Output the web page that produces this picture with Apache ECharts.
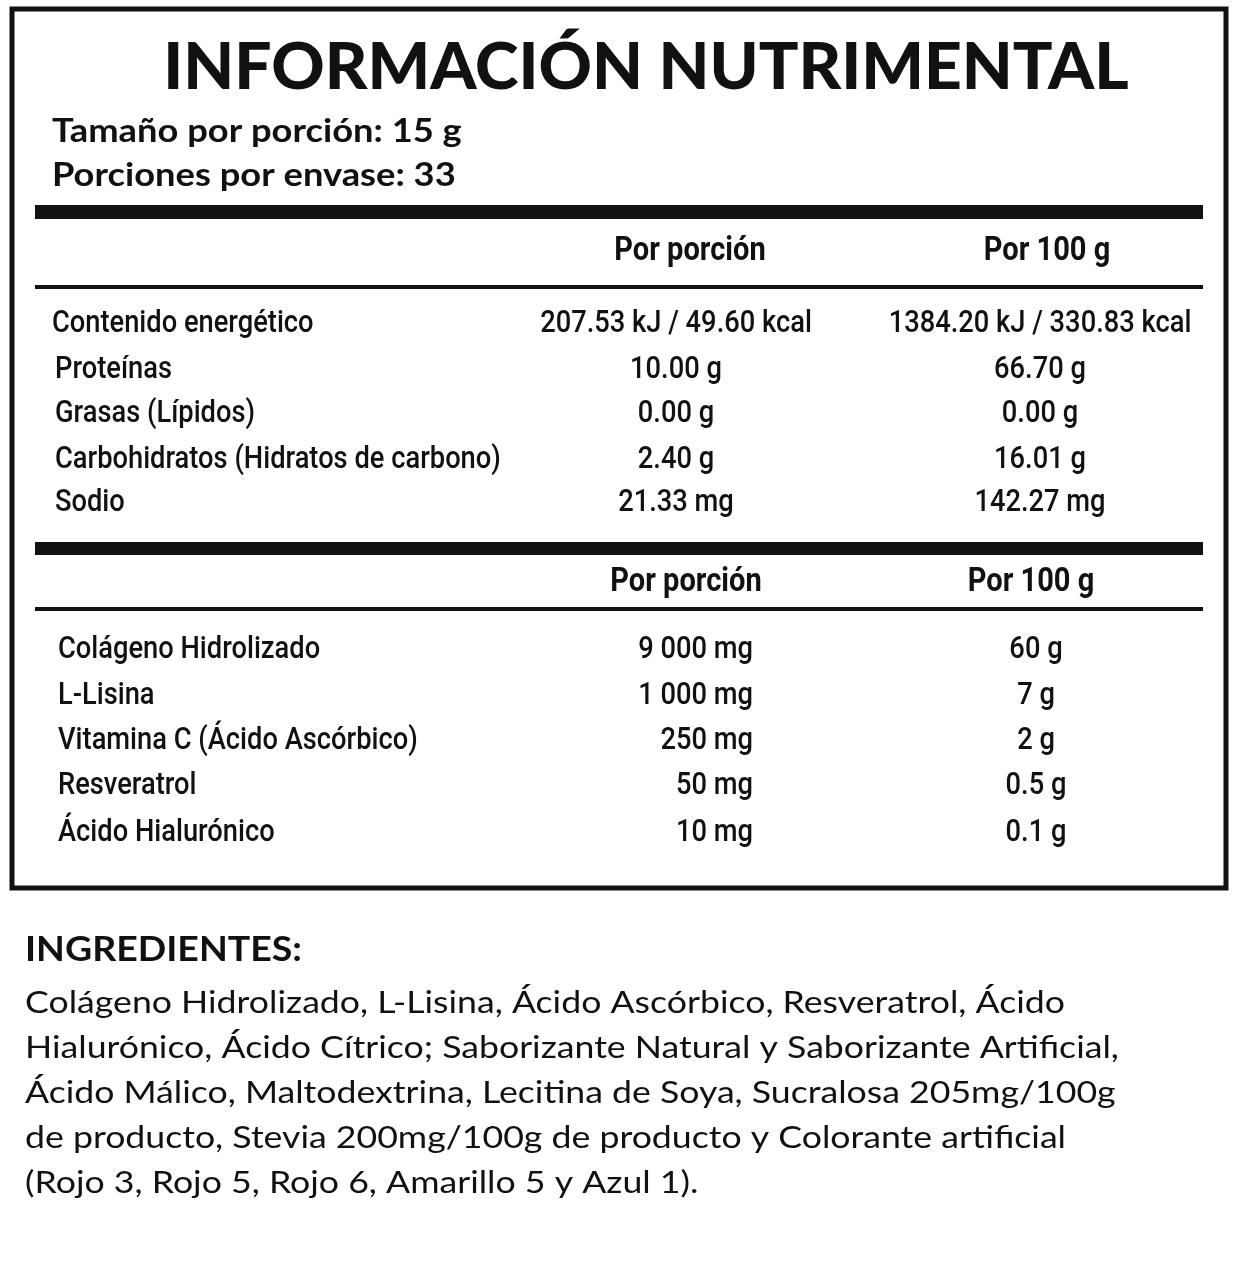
<!DOCTYPE html>
<html><head><meta charset="utf-8">
<script src="https://cdn.jsdelivr.net/npm/echarts@6/dist/echarts.min.js"></script>
<style>html,body{margin:0;padding:0;background:#fff}#main{width:1239px;height:1269px}</style>
</head><body><div id="main"></div>
<script>
// label data
var title = 'INFORMACIÓN NUTRIMENTAL';
var servingLines = ['Tamaño por porción: 15 g', 'Porciones por envase: 33'];
var colHeaders = ['Por porción', 'Por 100 g'];

var nutrients = ['Contenido energético', 'Proteínas', 'Grasas (Lípidos)', 'Carbohidratos (Hidratos de carbono)', 'Sodio'];
var nutrPortion = ['207.53 kJ / 49.60 kcal', '10.00 g', '0.00 g', '2.40 g', '21.33 mg'];
var nutr100 = ['1384.20 kJ / 330.83 kcal', '66.70 g', '0.00 g', '16.01 g', '142.27 mg'];

var actives = ['Colágeno Hidrolizado', 'L-Lisina', 'Vitamina C (Ácido Ascórbico)', 'Resveratrol', 'Ácido Hialurónico'];
var activePortion = ['9 000 mg', '1 000 mg', '250 mg', '50 mg', '10 mg'];
var active100 = ['60 g', '7 g', '2 g', '0.5 g', '0.1 g'];

var ingTitle = 'INGREDIENTES:';
var ingLines = [
  'Colágeno Hidrolizado, L-Lisina, Ácido Ascórbico, Resveratrol, Ácido',
  'Hialurónico, Ácido Cítrico; Saborizante Natural y Saborizante Artificial,',
  'Ácido Málico, Maltodextrina, Lecitina de Soya, Sucralosa 205mg/100g',
  'de producto, Stevia 200mg/100g de producto y Colorante artificial',
  '(Rojo 3, Rojo 5, Rojo 6, Amarillo 5 y Azul 1).'
];

var COND = 'Roboto, sans-serif';
var els = [];
function txt(x, y, s, size, align, weight, font, sx) {
  els.push({type: 'text', x: x, y: y, scaleX: sx || 0.88, style: {
    text: s, fill: '#111', font: (weight || '500') + ' ' + size + 'px ' + (font || COND),
    textAlign: align || 'left', textVerticalAlign: 'middle'}});
}
function bar(y, h) {
  els.push({type: 'rect', shape: {x: 35, y: y, width: 1168, height: h}, style: {fill: '#111'}});
}

els.push({type: 'rect', shape: {x: 12, y: 9, width: 1214, height: 879}, style: {fill: 'none', stroke: '#111', lineWidth: 5}});
txt(646, 68, title, 64, 'center', '900', 'Lato, sans-serif', 1.03);
txt(52, 131, servingLines[0], 33, 'left', 'bold', 'Lato, sans-serif', 1.1);
txt(52, 175, servingLines[1], 33, 'left', 'bold', 'Lato, sans-serif', 1.1);
bar(205, 14);
txt(690, 252, colHeaders[0], 33, 'center', 'bold');
txt(1047, 252, colHeaders[1], 33, 'center', 'bold');
bar(285, 4);
var rowY1 = [324, 370, 414, 460, 503];
nutrients.forEach(function (n, i) {
  txt(i === 0 ? 52 : 55, rowY1[i], n, 31, 'left', '500');
  txt(676, rowY1[i], nutrPortion[i], 31, 'center', '500');
  txt(1040, rowY1[i], nutr100[i], 31, 'center', '500');
});
bar(542, 13);
txt(686, 583, colHeaders[0], 33, 'center', 'bold');
txt(1031, 583, colHeaders[1], 33, 'center', 'bold');
bar(607, 4);
var rowY2 = [650, 696, 741, 786, 833];
actives.forEach(function (n, i) {
  txt(58, rowY2[i], n, 31, 'left', '500');
  txt(753, rowY2[i], activePortion[i], 31, 'right', '500');
  txt(1036, rowY2[i], active100[i], 31, 'center', '500');
});

txt(25, 950, ingTitle, 35, 'left', 'bold', 'Lato, sans-serif', 1.07);
ingLines.forEach(function (l, i) {
  txt(25, 1003 + i * 45, l, 31, 'left', 'normal', 'Lato, sans-serif', 1.15);
});

var chart = echarts.init(document.getElementById('main'));
chart.setOption({animation: false, graphic: {elements: els}});
</script></body></html>
